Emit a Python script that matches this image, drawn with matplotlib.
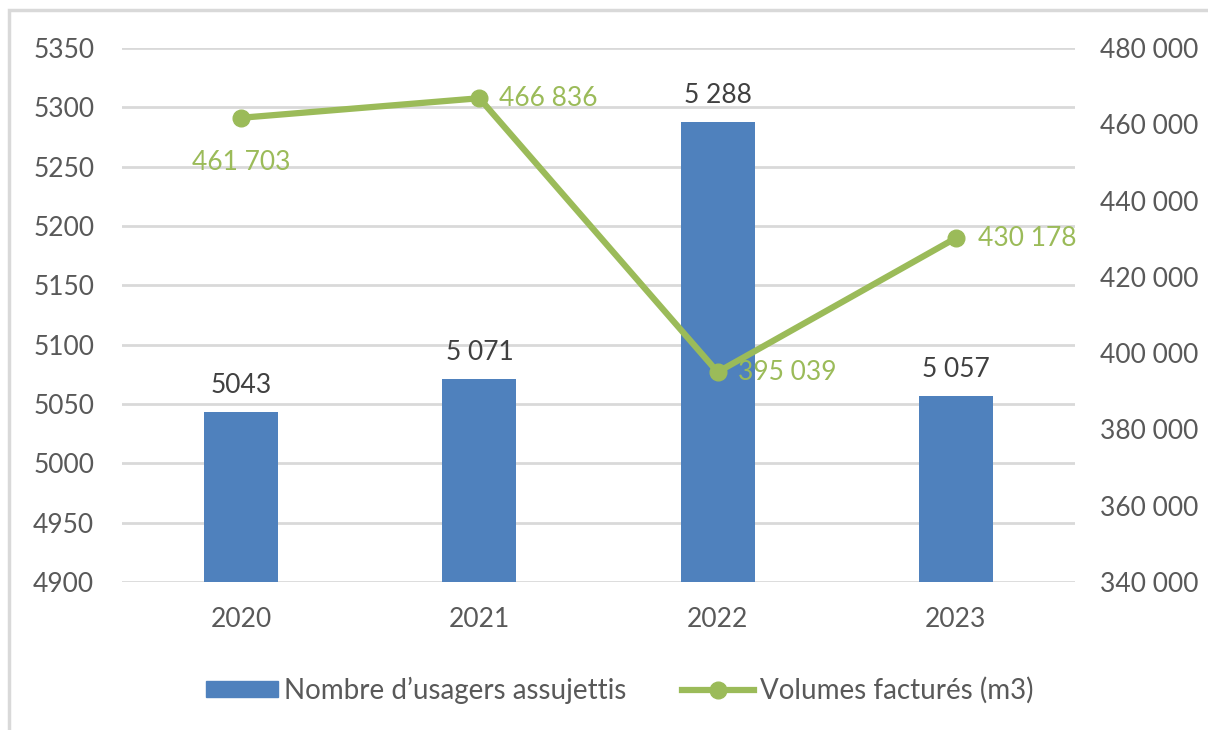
import matplotlib
matplotlib.use("Agg")
import matplotlib.pyplot as plt
from matplotlib.patches import Rectangle
from matplotlib.lines import Line2D
from matplotlib.ticker import FuncFormatter

plt.rcParams['font.family'] = ['Lato', 'DejaVu Sans']

years = ["2020", "2021", "2022", "2023"]
usagers = [5043, 5071, 5288, 5057]
usagers_labels = ["5043", "5 071", "5 288", "5 057"]
volumes = [461703, 466836, 395039, 430178]
volumes_labels = ["461 703", "466 836", "395 039", "430 178"]

blue = "#4F81BD"
green = "#9BBB59"
text_gray = "#595959"
grid_gray = "#D9D9D9"
fs = 19

fig = plt.figure(figsize=(12.08, 7.30), dpi=100)
fig.patches.append(Rectangle((9/1208, -0.1), 1.2, 1 - 10/730 + 0.1, transform=fig.transFigure,
                             fill=False, edgecolor="#D9D9D9", linewidth=2.5))

ax = fig.add_axes([122/1208, 1 - 582/730, (1075-122)/1208, (582-48)/730])
x = list(range(len(years)))
ax.bar(x, usagers, width=0.31, color=blue, zorder=2)
ax.set_ylim(4900, 5350)
ax.set_xlim(-0.5, 3.5)
ax.set_yticks(range(4900, 5351, 50))
ax.grid(axis="y", color=grid_gray, linewidth=2, zorder=0)
ax.set_axisbelow(True)
for s in ax.spines.values():
    s.set_visible(False)
ax.tick_params(axis="both", length=0, labelsize=fs, labelcolor=text_gray)
ax.tick_params(axis="y", pad=20)
ax.tick_params(axis="x", pad=18)
ax.set_xticks(x)
ax.set_xticklabels(years)
for xi, v, lab in zip(x, usagers, usagers_labels):
    ax.annotate(lab, (xi, v), xytext=(0, 10), textcoords="offset points",
                ha="center", va="bottom", fontsize=fs, color="#404040")

ax2 = ax.twinx()
ax2.set_ylim(340000, 480000)
ax2.set_yticks(range(340000, 480001, 20000))
ax2.yaxis.set_major_formatter(FuncFormatter(lambda v, p: f"{int(v):,}".replace(",", " ")))
for s in ax2.spines.values():
    s.set_visible(False)
ax2.tick_params(axis="y", length=0, labelsize=fs, labelcolor=text_gray, pad=18)
ax2.plot(x, volumes, color=green, linewidth=4.5, marker="o", markersize=12, zorder=3,
         solid_capstyle="round")
offsets = [(0, -45, "center", "center"), (20, 0, "left", "center"),
           (20, 0, "left", "center"), (22, 0, "left", "center")]
for xi, v, lab, (dx, dy, ha, va) in zip(x, volumes, volumes_labels, offsets):
    ax2.annotate(lab, (xi, v), xytext=(dx, dy), textcoords="offset pixels",
                 ha=ha, va=va, fontsize=fs, color=green)

handles = [Rectangle((0, 0), 1, 1, color=blue),
           Line2D([0], [0], color=green, linewidth=4.5, marker="o", markersize=12)]
fig.legend(handles, ["Nombre d’usagers assujettis", "Volumes facturés (m3)"],
           loc="center", bbox_to_anchor=(0.513, 1 - 690/730), ncol=2, frameon=False,
           fontsize=20, labelcolor=text_gray, handlelength=2.6, handleheight=0.5,
           handletextpad=0.2, columnspacing=2.0)

fig.savefig("out.png", dpi=100)
